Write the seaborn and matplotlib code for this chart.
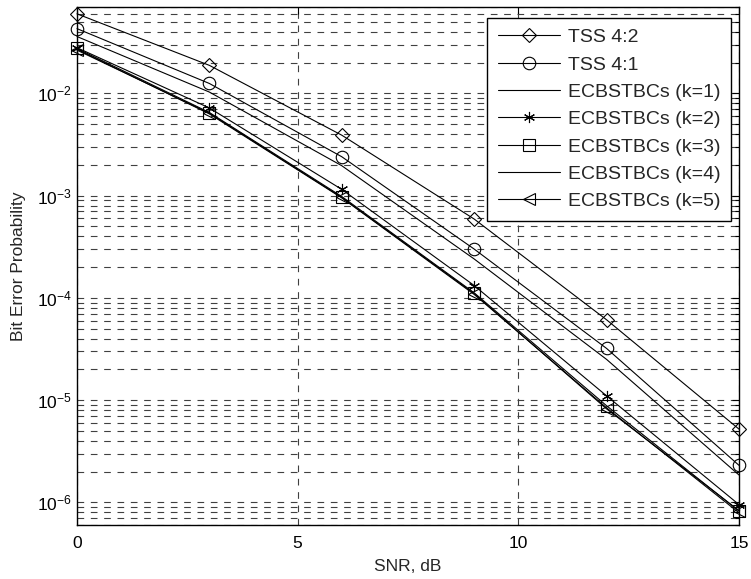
import numpy as np
import pandas as pd
import matplotlib
matplotlib.use("Agg")
import matplotlib.pyplot as plt
import seaborn as sns
from matplotlib.ticker import LogLocator, NullFormatter, FixedLocator

snr = [0, 3, 6, 9, 12, 15]

tss_42 = [0.060, 0.0188, 0.0039, 5.9e-4, 6.1e-5, 5.2e-6]
tss_41 = [0.043, 0.0125, 0.0024, 3.0e-4, 3.2e-5, 2.3e-6]
ecb_k1 = [0.036, 0.0103, 0.00196, 2.4e-4, 2.5e-5, 1.85e-6]
ecb_k2 = [0.028, 0.0072, 0.00115, 1.32e-4, 1.1e-5, 9.5e-7]
ecb_k3 = [0.0275, 0.0065, 0.00098, 1.12e-4, 8.8e-6, 8.2e-7]
ecb_k4 = [0.027, 0.0063, 0.00095, 1.08e-4, 8.4e-6, 7.9e-7]
ecb_k5 = [0.0265, 0.0064, 0.00096, 1.1e-4, 8.2e-6, 8.3e-7]

labels = ["TSS 4:2", "TSS 4:1", "ECBSTBCs (k=1)", "ECBSTBCs (k=2)",
          "ECBSTBCs (k=3)", "ECBSTBCs (k=4)", "ECBSTBCs (k=5)"]
series = [tss_42, tss_41, ecb_k1, ecb_k2, ecb_k3, ecb_k4, ecb_k5]
markers = ["D", "o", None, (6, 2, 0), "s", None, "<"]
msizes = [7.5, 9, 0, 8, 9, 0, 9]

sns.set_style("white")
plt.rcParams["font.family"] = ["Liberation Sans", "DejaVu Sans"]
plt.rcParams["mathtext.fontset"] = "custom"
plt.rcParams["mathtext.rm"] = "Liberation Sans"
plt.rcParams["mathtext.it"] = "Liberation Sans:italic"

fig = plt.figure(figsize=(7.51, 5.79), dpi=100)
ax = fig.add_axes([77 / 751, 1 - 525 / 579, (739 - 77) / 751, (525 - 7) / 579])

for lab, vals, m, ms in zip(labels, series, markers, msizes):
    kw = dict(color="k", linewidth=0.8, clip_on=False)
    if m is not None:
        kw.update(marker=m, markersize=ms, markerfacecolor="none",
                  markeredgecolor="k", markeredgewidth=0.8)
    sns.lineplot(x=snr, y=vals, ax=ax, label=lab, **kw)

ax.set_yscale("log")
ax.set_xlim(0, 15)
ax.set_ylim(6e-7, 7e-2)
ax.xaxis.set_major_locator(FixedLocator([0, 5, 10, 15]))
ax.yaxis.set_major_locator(LogLocator(base=10, numticks=20))
ax.yaxis.set_minor_locator(LogLocator(base=10, subs=np.arange(2, 10), numticks=20))
ax.yaxis.set_minor_formatter(NullFormatter())

grid_kw = dict(color="0.25", linestyle=(0, (6, 6)), linewidth=0.8)
ax.grid(True, axis="x", which="major", **grid_kw)
ax.grid(True, axis="y", which="both", **grid_kw)

ax.tick_params(axis="both", which="both", direction="in", top=True, right=True,
               colors="k", labelsize=12.5)
ax.tick_params(which="major", length=5, width=0.8)
ax.tick_params(which="minor", length=3, width=0.8)
ax.tick_params(axis="x", pad=8)
for s in ax.spines.values():
    s.set_color("k")
    s.set_linewidth(1.0)
    s.set_zorder(3)

ax.set_xlabel("SNR, dB", fontsize=12.5, labelpad=6)
ax.set_ylabel("Bit Error Probability", fontsize=12.5, labelpad=8)

leg = ax.legend(loc="upper right", bbox_to_anchor=((731 - 77) / 662, (525 - 18) / 518),
                borderaxespad=0, fontsize=14, frameon=True, fancybox=False,
                edgecolor="k", framealpha=1, handlelength=3.2, borderpad=0.55,
                handletextpad=0.4, labelspacing=0.5)
leg.get_frame().set_linewidth(1.0)
leg.set_zorder(5)

fig.savefig("out.png", dpi=100)
